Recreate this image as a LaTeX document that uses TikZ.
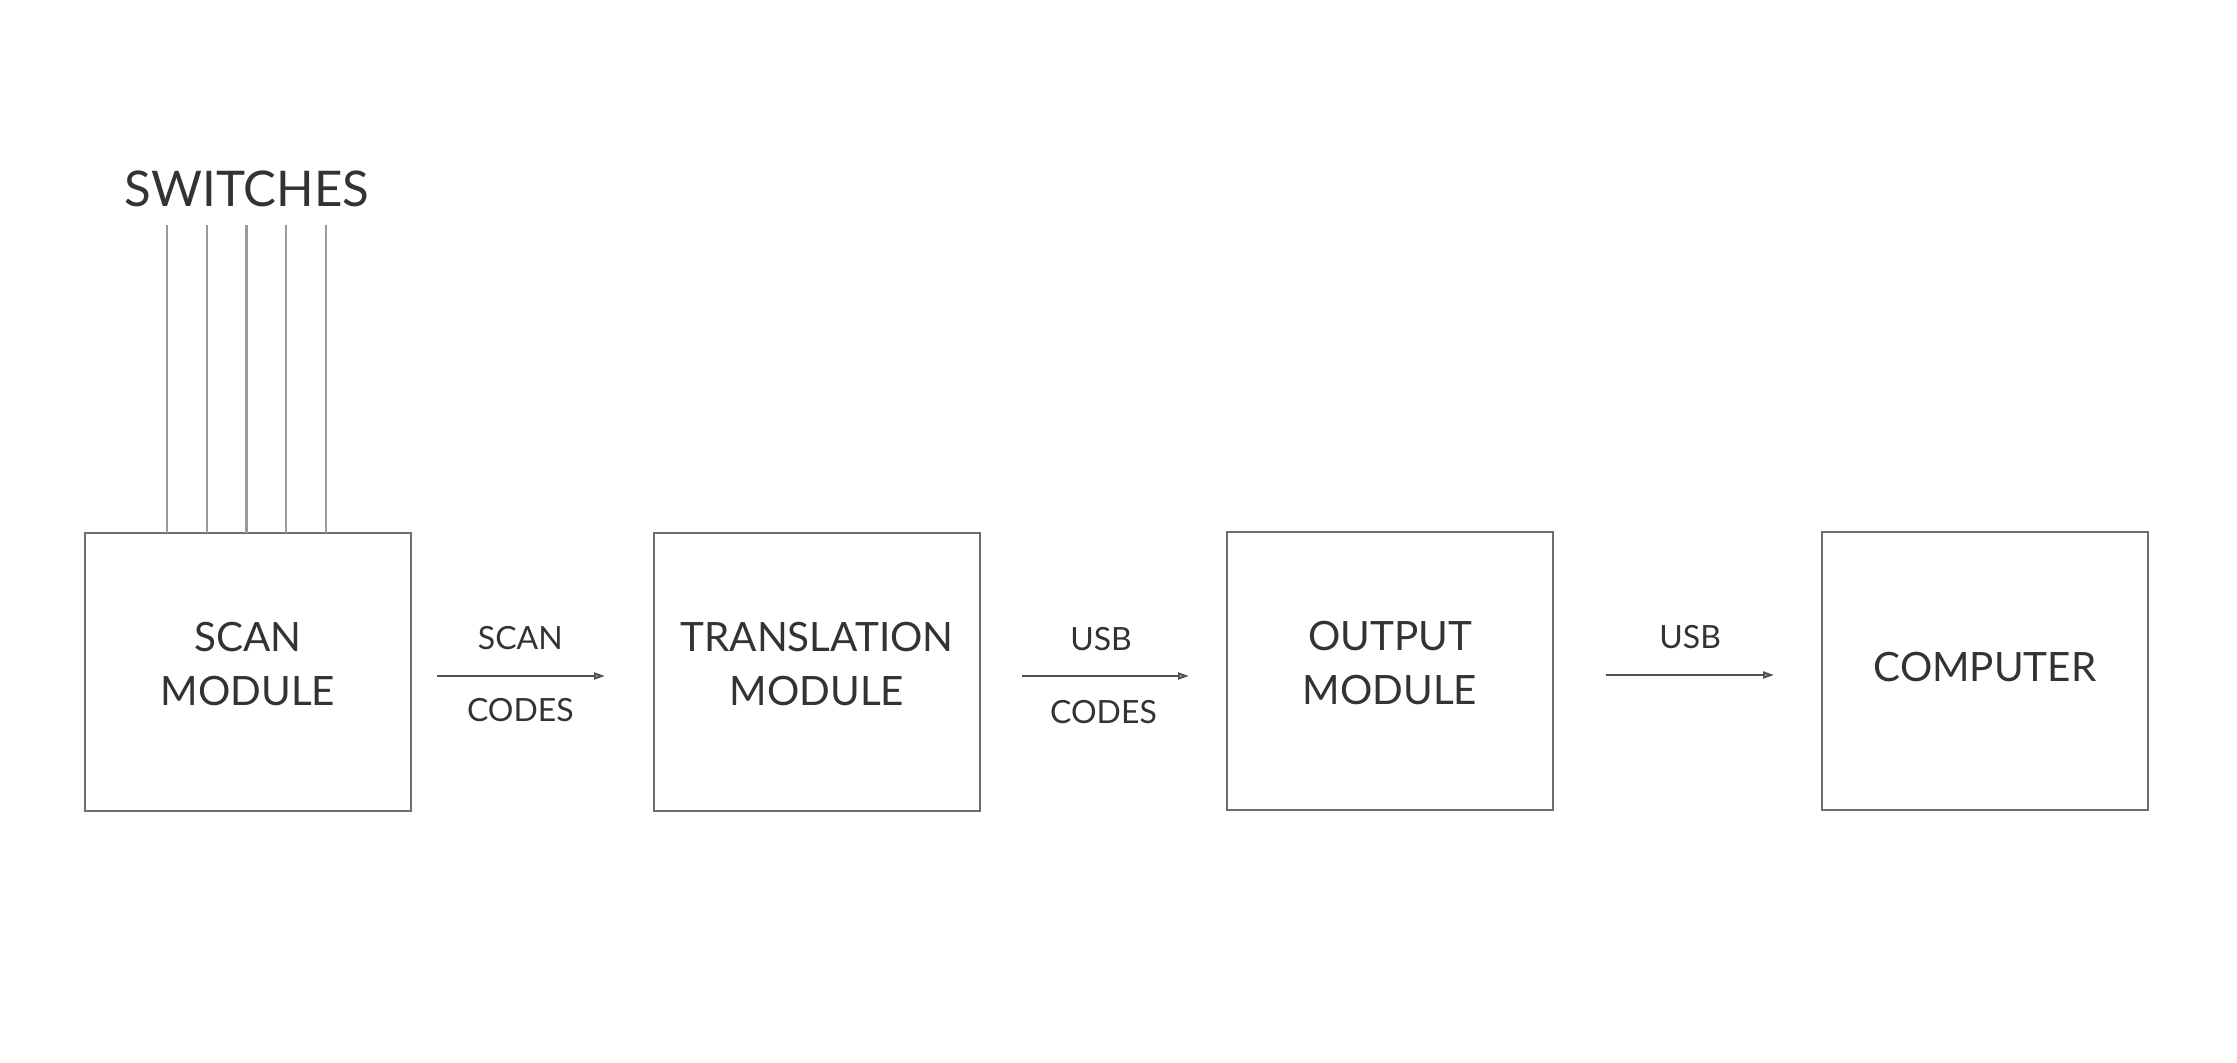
\documentclass[tikz,border=0pt]{standalone}
\usepackage{fontspec}
\setmainfont{Lato}
\usetikzlibrary{arrows.meta}
\definecolor{ink}{HTML}{333333}
\definecolor{edge}{HTML}{6E6E6E}
\definecolor{wire}{HTML}{9A9A9A}

\begin{document}
\begin{tikzpicture}
	[	module/.style={rectangle,draw=edge,line width=0.6pt,minimum width=3.26cm,minimum height=2.78cm,inner sep=0pt,outer sep=0pt,align=center,text=ink,font=\fontsize{11.5}{15.6}\selectfont,execute at end node={\strut}},
	tag/.style={draw=none,fill=none,text=ink,inner sep=0pt,font=\fontsize{9.1}{11}\selectfont},
	link/.style={draw=ink!85,line width=0.6pt,-{Triangle[open,length=0.11cm,width=0.07cm]}},
	pin/.style={draw=wire,line width=0.6pt}
	]
	\useasboundingbox (0,0) rectangle (22.37,10.62);
	\node[module] (scan) at (2.48,3.90){SCAN\\MODULE};
	\node[module] (trans) at (8.17,3.90){TRANSLATION\\MODULE};
	\node[module] (out) at (13.90,3.91){OUTPUT\\MODULE};
	\node[module] (comp) at (19.85,3.91){COMPUTER};

	\foreach \i in {0,...,4}
		\draw[pin] ([xshift=0.82cm+\i*0.3975cm]scan.north west) -- ++(0,3.08);
	\node[tag,anchor=base,font=\fontsize{14}{17}\selectfont] (switches) at (2.47,8.55){SWITCHES};

	\draw[link,shorten <=0.26cm,shorten >=0.49cm] ([yshift=-0.04cm]scan.east) -- node[tag,pos=.45,above=0.25cm]{SCAN} node[tag,pos=.45,below=0.21cm]{CODES} ([yshift=-0.04cm]trans.west);
	\draw[link,shorten <=0.42cm,shorten >=0.38cm] ([yshift=-0.04cm]trans.east) -- node[tag,pos=.49,above=0.24cm]{USB} node[tag,pos=.5,below=0.23cm]{CODES} ([yshift=-0.04cm]trans.east -| out.west);
	\draw[link,shorten <=0.53cm,shorten >=0.48cm] ([yshift=-0.04cm]out.east) -- node[tag,pos=.51,above=0.25cm]{USB} ([yshift=-0.04cm]comp.west);
\end{tikzpicture}
\end{document}
